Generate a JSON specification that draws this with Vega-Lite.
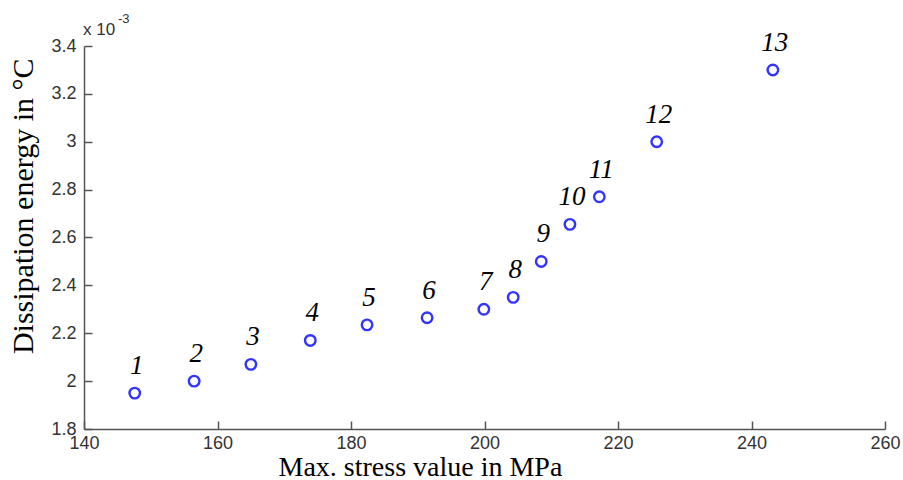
{
  "$schema": "https://vega.github.io/schema/vega-lite/v6.json",
  "width": 801,
  "height": 383,
  "autosize": "none",
  "padding": {"left": 84, "top": 46, "right": 18, "bottom": 51},
  "background": "white",
  "config": {"view": {"stroke": null}},
  "datasets": {
    "pts": [
      {"stress": 147.6, "energy": 1.95, "label": "1"},
      {"stress": 156.5, "energy": 2.0, "label": "2"},
      {"stress": 165.0, "energy": 2.07, "label": "3"},
      {"stress": 173.9, "energy": 2.17, "label": "4"},
      {"stress": 182.4, "energy": 2.235, "label": "5"},
      {"stress": 191.4, "energy": 2.265, "label": "6"},
      {"stress": 199.9, "energy": 2.30, "label": "7"},
      {"stress": 204.3, "energy": 2.35, "label": "8"},
      {"stress": 208.5, "energy": 2.50, "label": "9"},
      {"stress": 212.8, "energy": 2.655, "label": "10"},
      {"stress": 217.2, "energy": 2.77, "label": "11"},
      {"stress": 225.8, "energy": 3.0, "label": "12"},
      {"stress": 243.2, "energy": 3.3, "label": "13"}
    ],
    "corner": [{"stress": 140, "energy": 3.4}]
  },
  "layer": [
    {
      "data": {"name": "pts"},
      "mark": {"type": "point", "shape": "circle", "filled": false, "color": "#3333ff", "opacity": 1, "size": 110, "strokeWidth": 2.4},
      "encoding": {
        "x": {
          "field": "stress", "type": "quantitative",
          "scale": {"domain": [140, 260], "nice": false, "zero": false},
          "axis": {
            "values": [140, 160, 180, 200, 220, 240, 260],
            "title": "Max. stress value in MPa",
            "titleFont": "Liberation Serif", "titleFontSize": 28, "titleFontWeight": "normal", "titleColor": "black",
            "titleAnchor": "start", "titleAlign": "left", "titleBaseline": "alphabetic", "titleX": 194, "titleY": 46,
            "labelFont": "Liberation Sans", "labelFontSize": 18, "labelColor": "#333", "labelFlush": false,
            "labelPadding": 13,
            "domainColor": "#555", "domainWidth": 1.5,
            "tickColor": "#555", "tickWidth": 1.5, "tickSize": -8,
            "grid": false
          }
        },
        "y": {
          "field": "energy", "type": "quantitative",
          "scale": {"domain": [1.8, 3.4], "nice": false, "zero": false},
          "axis": {
            "values": [1.8, 2, 2.2, 2.4, 2.6, 2.8, 3, 3.2, 3.4],
            "format": ".2~f",
            "title": "Dissipation energy in °C",
            "titleFont": "Liberation Serif", "titleFontSize": 30, "titleFontWeight": "normal", "titleColor": "black",
            "titleAnchor": "end", "titleAlign": "right", "titleBaseline": "bottom", "titleAngle": -90, "titleY": 12, "titleX": -46,
            "labelFont": "Liberation Sans", "labelFontSize": 18, "labelColor": "#333", "labelFlush": false,
            "labelPadding": 16,
            "domainColor": "#555", "domainWidth": 1.5,
            "tickColor": "#555", "tickWidth": 1.5, "tickSize": -8,
            "grid": false
          }
        }
      }
    },
    {
      "data": {"name": "pts"},
      "mark": {"type": "text", "font": "Liberation Serif", "fontStyle": "italic", "fontSize": 27, "color": "black", "baseline": "alphabetic", "align": "center", "dy": -19, "dx": 2},
      "encoding": {
        "x": {"field": "stress", "type": "quantitative"},
        "y": {"field": "energy", "type": "quantitative"},
        "text": {"field": "label"}
      }
    },
    {
      "data": {"name": "corner"},
      "mark": {"type": "text", "text": "x 10", "font": "Liberation Sans", "fontSize": 17, "color": "#333", "align": "left", "baseline": "alphabetic", "dx": -1, "dy": -11},
      "encoding": {
        "x": {"field": "stress", "type": "quantitative"},
        "y": {"field": "energy", "type": "quantitative"}
      }
    },
    {
      "data": {"name": "corner"},
      "mark": {"type": "text", "text": "-3", "font": "Liberation Sans", "fontSize": 13, "color": "#333", "align": "left", "baseline": "alphabetic", "dx": 34, "dy": -23},
      "encoding": {
        "x": {"field": "stress", "type": "quantitative"},
        "y": {"field": "energy", "type": "quantitative"}
      }
    }
  ]
}
